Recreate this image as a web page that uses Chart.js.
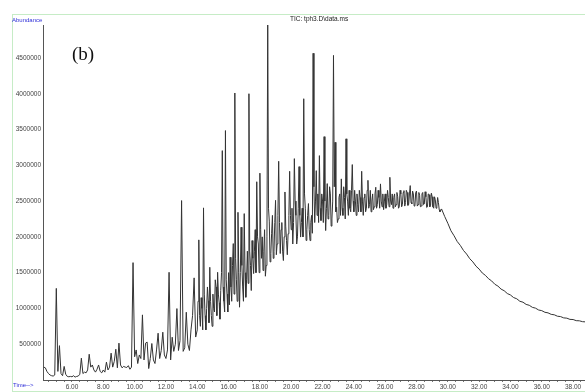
<!DOCTYPE html>
<html>
<head>
<meta charset="utf-8">
<script src="https://cdn.jsdelivr.net/npm/chart.js@4.4.1/dist/chart.umd.min.js"></script>
<style>
    html, body { margin: 0; padding: 0; background: #fff; }
    #wrap { position: relative; width: 585px; height: 392px; overflow: hidden; }
    #frame {
        position: absolute; left: 12px; top: 14px; width: 620px; height: 376px;
        border-left: 1px solid #c6ecc6; border-top: 1px solid #c6ecc6; border-bottom: 1px solid #c6ecc6;
    }
    #tic { position: absolute; left: 0; top: 0; }
    .lbl { position: absolute; white-space: nowrap; font-family: 'Liberation Sans', Arial, sans-serif; line-height: 1; }
    .blue { color: #2f2fd8; font-size: 6px; }
</style>
</head>
<body>
<div id="wrap">
    <div id="frame"></div>
    <canvas id="tic" width="585" height="392"></canvas>
    <div class="lbl blue" style="left:12px; top:17px;">Abundance</div>
    <div class="lbl blue" style="left:13px; top:382px;">Time--&gt;</div>
    <div class="lbl" style="left:290px; top:16px; font-size:6.5px; color:#222;">TIC: tph3.D\data.ms</div>
    <div class="lbl" style="left:72px; top:44px; font-size:19px; color:#111; font-family:'Liberation Serif', 'DejaVu Serif', serif;">(b)</div>
</div>
<script>
// retention time (min)
const times = [
    4.2, 4.3, 4.4, 4.5, 4.6, 4.7, 4.8, 4.9,
    5.0, 5.1, 5.2, 5.3, 5.4, 5.5, 5.6, 5.7, 5.8, 5.9,
    6.0, 6.1, 6.2, 6.3, 6.4, 6.5, 6.6, 6.7, 6.8, 6.9,
    7.0, 7.1, 7.2, 7.3, 7.4, 7.5, 7.6, 7.7, 7.8, 7.9,
    8.0, 8.1, 8.2, 8.3, 8.4, 8.5, 8.6, 8.7, 8.8, 8.9,
    9.0, 9.1, 9.2, 9.3, 9.4, 9.5, 9.6, 9.7, 9.8, 9.9,
    10.0, 10.1, 10.2, 10.3, 10.4, 10.5, 10.6, 10.7, 10.8, 10.9,
    11.0, 11.1, 11.2, 11.3, 11.4, 11.5, 11.6, 11.7, 11.8, 11.9,
    12.0, 12.1, 12.2, 12.3, 12.4, 12.5, 12.6, 12.7, 12.8, 12.9,
    13.0, 13.1, 13.2, 13.3, 13.4, 13.5, 13.6, 13.7, 13.8, 13.9,
    14.00, 14.05, 14.10, 14.15, 14.20, 14.25, 14.30, 14.35, 14.40, 14.45,
    14.50, 14.55, 14.60, 14.65, 14.70, 14.75, 14.80, 14.85, 14.90, 14.95,
    15.00, 15.05, 15.10, 15.15, 15.20, 15.25, 15.30, 15.35, 15.40, 15.45,
    15.50, 15.55, 15.60, 15.65, 15.70, 15.75, 15.80, 15.85, 15.90, 15.95,
    16.00, 16.05, 16.10, 16.15, 16.20, 16.25, 16.30, 16.35, 16.40, 16.45,
    16.50, 16.55, 16.60, 16.65, 16.70, 16.75, 16.80, 16.85, 16.90, 16.95,
    17.00, 17.05, 17.10, 17.15, 17.20, 17.25, 17.30, 17.35, 17.40, 17.45,
    17.50, 17.55, 17.60, 17.65, 17.70, 17.75, 17.80, 17.85, 17.90, 17.95,
    18.00, 18.05, 18.10, 18.15, 18.20, 18.25, 18.30, 18.35, 18.40, 18.45,
    18.50, 18.55, 18.60, 18.65, 18.70, 18.75, 18.80, 18.85, 18.90, 18.95,
    19.00, 19.05, 19.10, 19.15, 19.20, 19.25, 19.30, 19.35, 19.40, 19.45,
    19.50, 19.55, 19.60, 19.65, 19.70, 19.75, 19.80, 19.85, 19.90, 19.95,
    20.00, 20.05, 20.10, 20.15, 20.20, 20.25, 20.30, 20.35, 20.40, 20.45,
    20.50, 20.55, 20.60, 20.65, 20.70, 20.75, 20.80, 20.85, 20.90, 20.95,
    21.00, 21.05, 21.10, 21.15, 21.20, 21.25, 21.30, 21.35, 21.40, 21.45,
    21.50, 21.55, 21.60, 21.65, 21.70, 21.75, 21.80, 21.85, 21.90, 21.95,
    22.00, 22.05, 22.10, 22.15, 22.20, 22.25, 22.30, 22.35, 22.40, 22.45,
    22.50, 22.55, 22.60, 22.65, 22.70, 22.75, 22.80, 22.85, 22.90, 22.95,
    23.00, 23.05, 23.10, 23.15, 23.20, 23.25, 23.30, 23.35, 23.40, 23.45,
    23.50, 23.55, 23.60, 23.65, 23.70, 23.75, 23.80, 23.85, 23.90, 23.95,
    24.00, 24.05, 24.10, 24.15, 24.20, 24.25, 24.30, 24.35, 24.40, 24.45,
    24.50, 24.55, 24.60, 24.65, 24.70, 24.75, 24.80, 24.85, 24.90, 24.95,
    25.00, 25.05, 25.10, 25.15, 25.20, 25.25, 25.30, 25.35, 25.40, 25.45,
    25.50, 25.55, 25.60, 25.65, 25.70, 25.75, 25.80, 25.85, 25.90, 25.95,
    26.00, 26.05, 26.10, 26.15, 26.20, 26.25, 26.30, 26.35, 26.40, 26.45,
    26.50, 26.55, 26.60, 26.65, 26.70, 26.75, 26.80, 26.85, 26.90, 26.95,
    27.00, 27.05, 27.10, 27.15, 27.20, 27.25, 27.30, 27.35, 27.40, 27.45,
    27.50, 27.55, 27.60, 27.65, 27.70, 27.75, 27.80, 27.85, 27.90, 27.95,
    28.00, 28.05, 28.10, 28.15, 28.20, 28.25, 28.30, 28.35, 28.40, 28.45,
    28.50, 28.55, 28.60, 28.65, 28.70, 28.75, 28.80, 28.85, 28.90, 28.95,
    29.00, 29.05, 29.10, 29.15, 29.20, 29.25, 29.30, 29.35, 29.40, 29.45, 29.50,
    29.6, 29.8, 30.0, 30.2, 30.4, 30.6, 30.8, 31.0, 31.2, 31.4,
    31.6, 31.8, 32.0, 32.2, 32.4, 32.6, 32.8, 33.0, 33.2, 33.4,
    33.6, 33.8, 34.0, 34.2, 34.4, 34.6, 34.8, 35.0, 35.2, 35.4,
    35.6, 35.8, 36.0, 36.2, 36.4, 36.6, 36.8, 37.0, 37.2, 37.4,
    37.6, 37.8, 38.0, 38.2, 38.4, 38.6, 38.8
];

// TIC abundance, in thousands of counts
const abundance = [
    180, 170, 120, 90, 70, 60, 55, 70,
    1280, 120, 480, 90, 60, 190, 80, 50, 45, 50,
    45, 60, 40, 50, 55, 80, 305, 90, 110, 100,
    140, 360, 180, 210, 140, 110, 150, 210, 120, 100,
    140, 110, 250, 140, 180, 375, 180, 260, 430, 170,
    515, 210, 170, 190, 180, 175, 200, 150, 180, 1640,
    325, 420, 230, 350, 300, 910, 280, 515, 530, 160,
    300, 510, 280, 230, 420, 654, 300, 412, 668, 350,
    300, 420, 1505, 280, 598, 400, 500, 998, 412, 550,
    2507, 400, 450, 947, 500, 412, 700, 900, 1427, 600,
    700, 1100, 1958, 900, 750, 1150, 1000, 700, 2405, 1200,
    900, 700, 1000, 1300, 1110, 800, 1575, 1100, 900, 750,
    1200, 1000, 950, 1400, 1300, 900, 1505, 1200, 1080, 850,
    1250, 1500, 3205, 1300, 1100, 950, 3485, 1400, 1200, 950,
    1500, 1050, 1715, 1300, 1100, 1600, 1906, 1200, 4010, 1700,
    1400, 1100, 2343, 1500, 1017, 1500, 2134, 1600, 1300, 1100,
    2325, 1500, 1156, 1400, 1800, 1350, 4000, 1800, 1600, 1250,
    1948, 1700, 1487, 1800, 2100, 1500, 2770, 2000, 1900, 1500,
    2890, 2100, 1700, 2000, 1530, 1800, 2100, 1450, 1600, 2000,
    4970, 2400, 2220, 1650, 1767, 2050, 2300, 1700, 1800, 2200,
    2510, 1750, 1900, 2300, 3056, 2200, 1767, 2100, 2200, 1800,
    1669, 2000, 2627, 2150, 1950, 1750, 2043, 2300, 2916, 2300,
    2100, 2400, 1900, 2200, 3093, 2500, 2300, 1900, 2000, 2400,
    2981, 2300, 1997, 2200, 2400, 2000, 3930, 2600, 2400, 1950,
    2100, 2300, 2465, 2100, 1948, 2200, 2300, 2050, 4565, 2700,
    2200, 2500, 2925, 2300, 2600, 2200, 3135, 2400, 2228, 2600,
    2500, 2200, 3400, 2500, 2088, 2400, 2744, 2250, 2300, 2700,
    2600, 2150, 2250, 2500, 4535, 2700, 3321, 2350, 2413, 2200,
    2250, 2550, 2600, 2300, 2810, 2400, 2300, 2700, 2550, 2250,
    3370, 2600, 2500, 2300, 2650, 2400, 2350, 2650, 3010, 2500,
    2350, 2650, 2500, 2300, 2600, 2450, 2350, 2650, 2550, 2350,
    2916, 2500, 2300, 2550, 2600, 2350, 2400, 2650, 2790, 2400,
    2450, 2650, 2350, 2500, 2600, 2380, 2420, 2600, 2693, 2400,
    2450, 2650, 2550, 2400, 2740, 2500, 2420, 2600, 2380, 2500,
    2600, 2400, 2450, 2650, 2550, 2420, 2832, 2500, 2450, 2600,
    2400, 2550, 2600, 2420, 2450, 2620, 2560, 2400, 2420, 2650,
    2600, 2420, 2450, 2620, 2646, 2430, 2480, 2650, 2620, 2440,
    2450, 2600, 2716, 2480, 2460, 2640, 2600, 2430, 2440, 2620,
    2640, 2430, 2450, 2620, 2580, 2420, 2430, 2600, 2620, 2450,
    2460, 2630, 2560, 2410, 2420, 2600, 2590, 2420, 2440, 2610,
    2560, 2420, 2400, 2560, 2520, 2400, 2430, 2550, 2480, 2380, 2350,
    2390, 2285, 2190, 2085, 2015, 1935, 1880, 1810, 1760, 1695,
    1650, 1590, 1550, 1495, 1462, 1415, 1384, 1338, 1312, 1270,
    1247, 1208, 1188, 1152, 1135, 1100, 1087, 1056, 1044, 1015,
    1004, 978, 969, 946, 938, 917, 911, 891, 886, 868,
    864, 847, 845, 829, 827, 815, 812
];

const timeRange = [4.15, 38.76];
const abundanceRange = [0, 4960];
const abundanceTicks = [500, 1000, 1500, 2000, 2500, 3000, 3500, 4000, 4500];
const timeLabelStep = 2;

const points = times.map((t, i) => ({ x: t, y: abundance[i] }));

const tickFont = { family: "'Liberation Sans', Arial, sans-serif", size: 6.5 };

new Chart(document.getElementById('tic'), {
    type: 'line',
    data: {
        datasets: [{
            data: points,
            borderColor: '#333',
            borderWidth: 1,
            pointRadius: 0,
            tension: 0,
            fill: false
        }]
    },
    options: {
        responsive: false,
        animation: false,
        events: [],
        layout: { padding: { top: 25, left: 0, right: 0, bottom: 0 } },
        plugins: {
            legend: { display: false },
            tooltip: { enabled: false }
        },
        scales: {
            x: {
                type: 'linear',
                min: timeRange[0],
                max: timeRange[1],
                border: { color: '#555', width: 1 },
                grid: { drawOnChartArea: false, drawTicks: true, tickLength: 2, color: '#777' },
                ticks: {
                    stepSize: 0.5,
                    includeBounds: false,
                    autoSkip: false,
                    maxRotation: 0,
                    padding: 1,
                    color: '#444',
                    font: tickFont,
                    callback: function (value) {
                        if (value >= 6 && Math.abs(value % timeLabelStep) < 1e-6) {
                            return value.toFixed(2);
                        }
                        return '';
                    }
                },
                afterFit: function (scale) {
                    scale.height = 12;
                    scale.paddingLeft = 0;
                    scale.paddingRight = 0;
                }
            },
            y: {
                min: abundanceRange[0],
                max: abundanceRange[1],
                border: { color: '#555', width: 1 },
                grid: { drawOnChartArea: false, drawTicks: false },
                ticks: {
                    padding: 2,
                    color: '#444',
                    font: tickFont,
                    callback: function (value) {
                        return String(value * 1000);
                    }
                },
                afterBuildTicks: function (scale) {
                    scale.ticks = abundanceTicks.map(v => ({ value: v }));
                },
                afterFit: function (scale) {
                    scale.width = 43;
                    scale.paddingTop = 0;
                    scale.paddingBottom = 0;
                }
            }
        }
    }
});
</script>
</body>
</html>
